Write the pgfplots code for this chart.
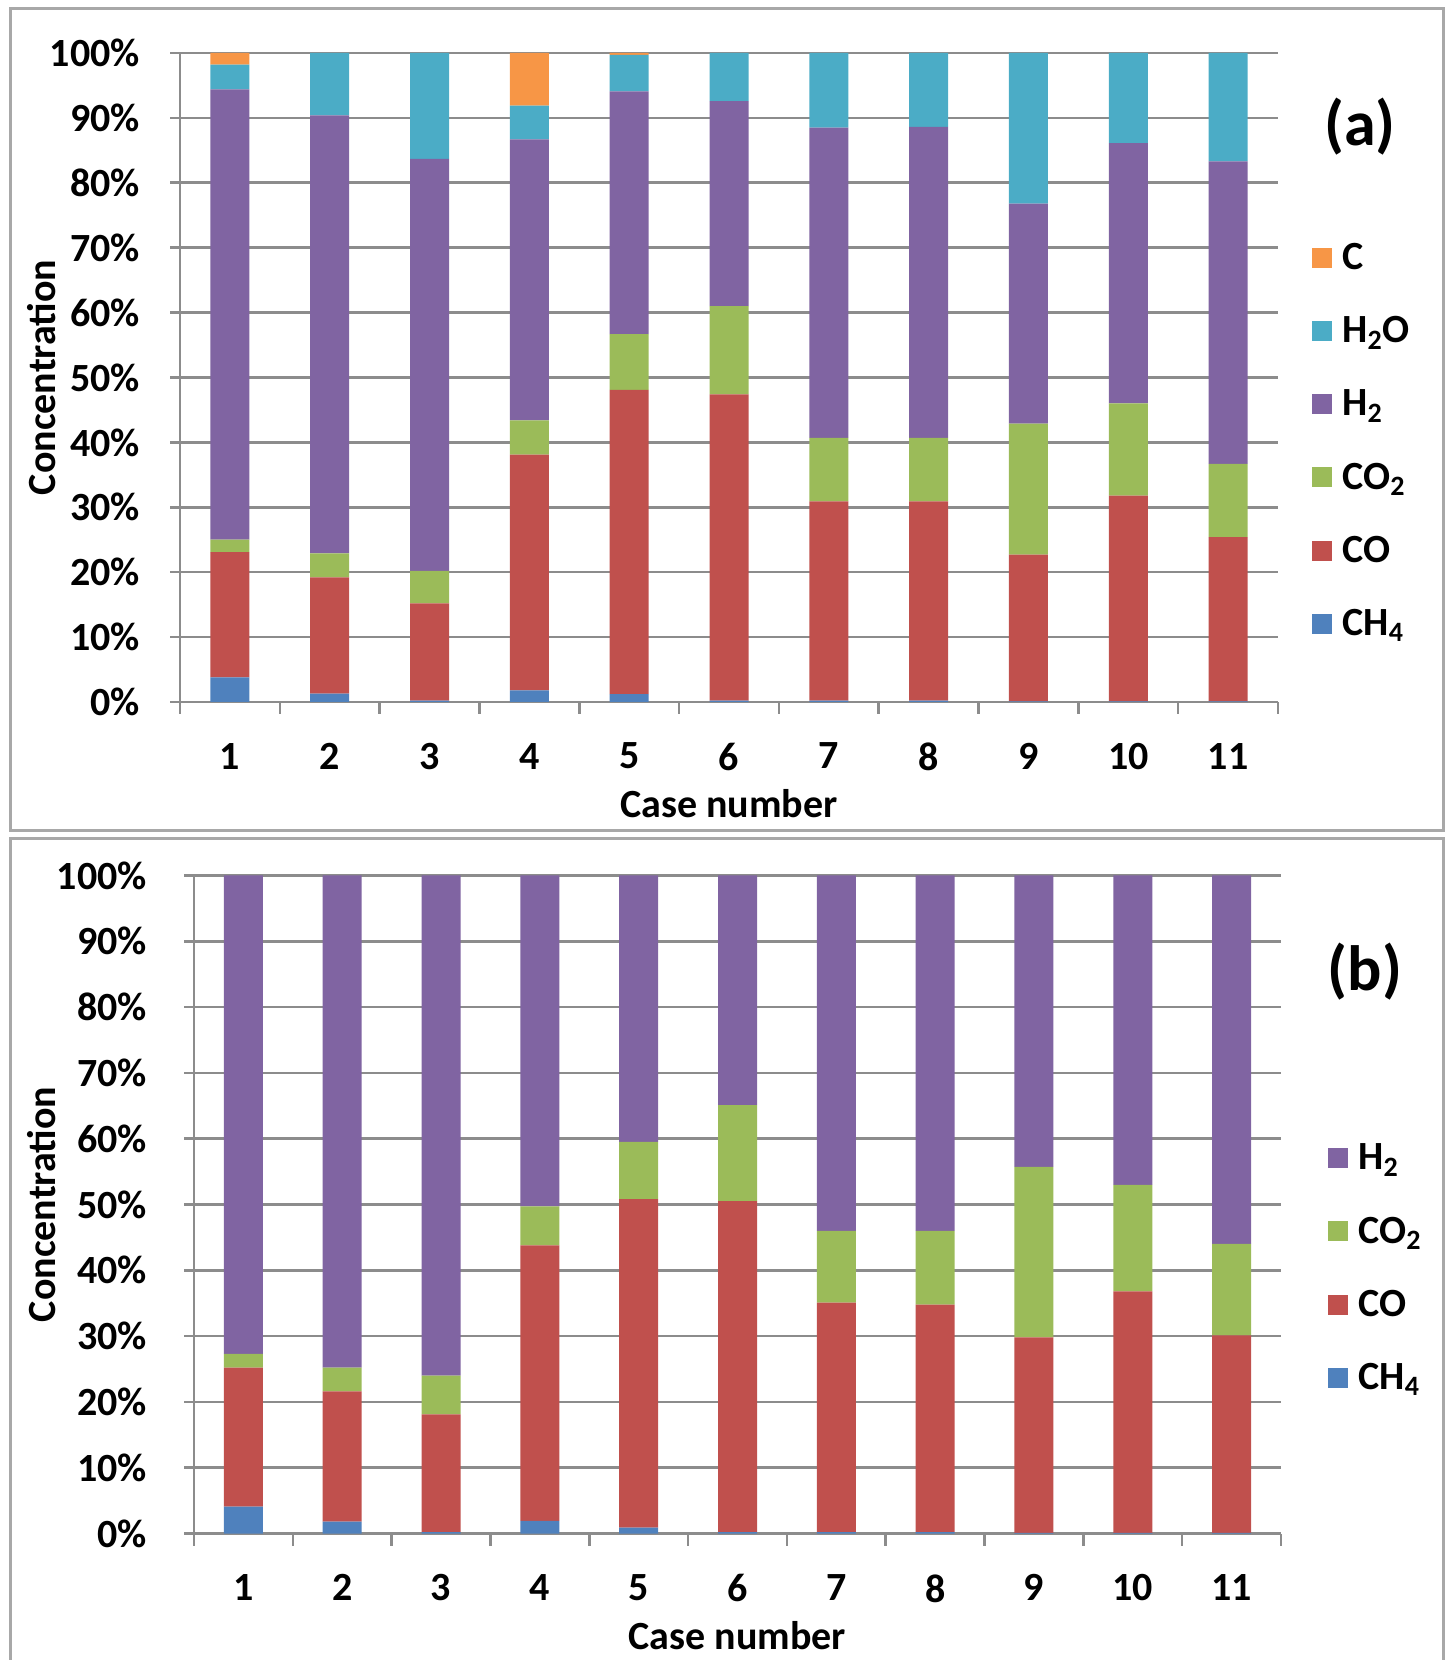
\documentclass[border=0pt]{standalone}
\usepackage{pgfplots}
\pgfplotsset{compat=1.18}
\usepackage{pgfplotstable}
\usepackage{fontspec}
\setmainfont{Carlito}
\definecolor{cCH}{HTML}{4F81BD}
\definecolor{cCO}{HTML}{C0504D}
\definecolor{cCOt}{HTML}{9BBB59}
\definecolor{cH}{HTML}{8064A2}
\definecolor{cHO}{HTML}{4BACC6}
\definecolor{cC}{HTML}{F79646}
\definecolor{gridgray}{HTML}{8C8C8C}
\definecolor{framegray}{HTML}{A8A8A8}

\pgfplotstableread{
case CH4 CO CO2 H2 H2O C
1 3.8 19.3 1.9 69.4 3.8 1.8
2 1.3 17.9 3.7 67.5 9.6 0
3 0.2 15.0 5.0 63.5 16.3 0
4 1.8 36.3 5.3 43.3 5.2 8.1
5 1.2 46.9 8.6 37.4 5.6 0.3
6 0.2 47.2 13.6 31.6 7.4 0
7 0.2 30.7 9.8 47.8 11.5 0
8 0.2 30.7 9.8 47.9 11.4 0
9 0.1 22.6 20.2 33.9 23.2 0
10 0.1 31.7 14.2 40.1 13.9 0
11 0.1 25.3 11.3 46.6 16.7 0
}\tabA

\pgfplotstableread{
case CH4 CO CO2 H2
1 4.1 21.1 2.1 72.7
2 1.8 19.8 3.6 74.8
3 0.2 17.9 5.9 76.0
4 1.9 41.9 5.9 50.3
5 0.9 49.9 8.7 40.5
6 0.2 50.3 14.6 34.9
7 0.2 34.9 10.9 54.0
8 0.2 34.6 11.2 54.0
9 0.1 29.7 25.9 44.3
10 0.1 36.7 16.2 47.0
11 0.1 30.0 13.9 56.0
}\tabB

\newcommand{\bigfont}{\bfseries\fontsize{20}{24}\selectfont}

\pgfplotsset{
  myaxis/.style={
    scale only axis,
    ybar stacked, bar width=19.5pt,
    xmin=0.5, xmax=11.5, ymin=0, ymax=100,
    xtick={1,2,3,4,5,6,7,8,9,10,11},
    xticklabels={1,2,3,4,5,6,7,8,9,10,11},
    minor xtick={0.5,1.5,2.5,3.5,4.5,5.5,6.5,7.5,8.5,9.5,10.5,11.5},
    ytick={0,10,20,30,40,50,60,70,80,90,100},
    yticklabels={0\%,10\%,20\%,30\%,40\%,50\%,60\%,70\%,80\%,90\%,100\%},
    tick align=outside,
    major tick length=5pt, minor tick length=6pt,
    major x tick style={draw=none},
    ymajorgrids, grid style={draw=gridgray, line width=1.3pt},
    axis x line*=bottom, axis y line*=left,
    axis line style={draw=gridgray, line width=1.3pt, -},
    tick style={draw=gridgray, line width=1.3pt},
    ticklabel style={font=\bigfont},
    xticklabel style={yshift=-12pt},
    label style={font=\bigfont},
    xlabel={Case number}, ylabel={Concentration},
    x label style={at={(axis description cs:0.5,0)}, anchor=center, yshift=-51pt},
    legend image code/.code={\fill[#1] (0pt,-5pt) rectangle (10pt,5pt);},
    reverse legend,
    legend cell align=left,
    legend style={draw=none, fill=none, font=\bigfont, row sep=18pt, inner sep=0pt, column sep=3pt},
  }
}

\begin{document}
\begin{tikzpicture}
\useasboundingbox (0pt,0pt) rectangle (724pt,830pt);
\draw[framegray, line width=1.5pt] (5pt,414.5pt) rectangle (721.5pt,825.75pt);
\draw[framegray, line width=1.5pt] (5pt,-2pt) rectangle (721.5pt,410.5pt);

\begin{axis}[myaxis, at={(90pt,479pt)}, anchor=south west, width=549pt, height=324.5pt,
  yticklabel style={xshift=-11.5pt},
  y label style={at={(axis description cs:-0.1257,0.5)}, anchor=center},
  legend style={at={(axis description cs:1,1)}, anchor=north west, xshift=17pt, yshift=-93pt}]
\addplot[fill=cCH, draw=none] table[x=case, y=CH4] {\tabA};
\addplot[fill=cCO, draw=none] table[x=case, y=CO] {\tabA};
\addplot[fill=cCOt, draw=none] table[x=case, y=CO2] {\tabA};
\addplot[fill=cH, draw=none] table[x=case, y=H2] {\tabA};
\addplot[fill=cHO, draw=none] table[x=case, y=H2O] {\tabA};
\addplot[fill=cC, draw=none] table[x=case, y=C] {\tabA};
\legend{CH\textsubscript{4}, CO, CO\textsubscript{2}, H\textsubscript{2}, H\textsubscript{2}O, C}
\end{axis}

\begin{axis}[myaxis, at={(97pt,63.25pt)}, anchor=south west, width=543.5pt, height=329pt,
  yticklabel style={xshift=-15pt},
  y label style={at={(axis description cs:-0.14,0.5)}, anchor=center},
  legend style={at={(axis description cs:1,1)}, anchor=north west, xshift=23.5pt, yshift=-132pt}]
\addplot[fill=cCH, draw=none] table[x=case, y=CH4] {\tabB};
\addplot[fill=cCO, draw=none] table[x=case, y=CO] {\tabB};
\addplot[fill=cCOt, draw=none] table[x=case, y=CO2] {\tabB};
\addplot[fill=cH, draw=none] table[x=case, y=H2] {\tabB};
\legend{CH\textsubscript{4}, CO, CO\textsubscript{2}, H\textsubscript{2}}
\end{axis}

\node[font=\bfseries\fontsize{32}{38}\selectfont] at (680pt,766.5pt) {(a)};
\node[font=\bfseries\fontsize{32}{38}\selectfont] at (682.5pt,344pt) {(b)};
\end{tikzpicture}
\end{document}
